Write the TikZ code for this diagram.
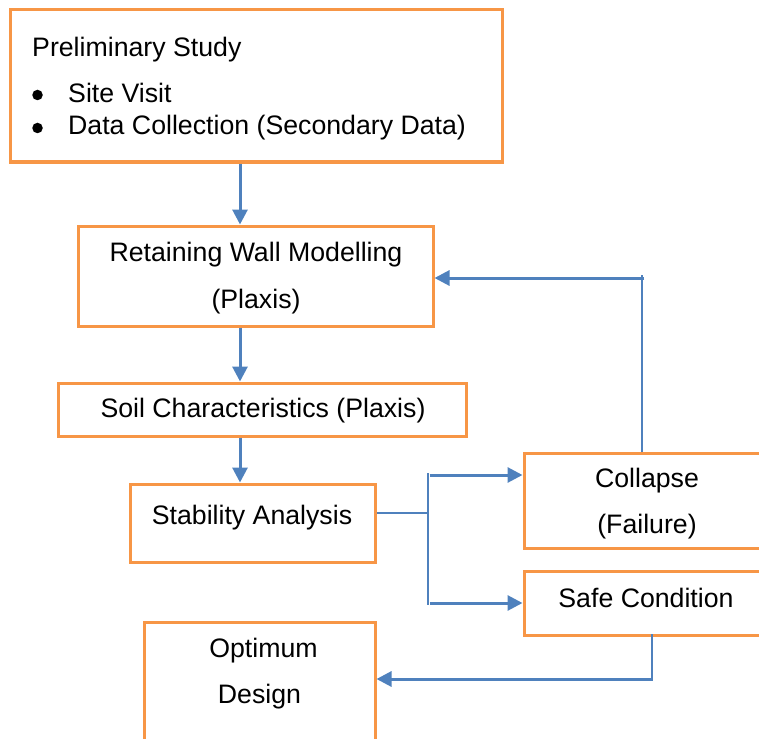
\documentclass[tikz,border=0pt]{standalone}
\usepackage{fontspec}
\setmainfont{Liberation Sans}
\usetikzlibrary{arrows.meta}
\definecolor{boxorange}{HTML}{F79646}
\definecolor{lineblue}{HTML}{4F81BD}
\begin{document}
\begin{tikzpicture}[x=1pt,y=-1pt,
  box/.style={draw=boxorange,line width=3pt,inner sep=0pt},
  txt/.style={inner sep=0pt,font=\fontsize{26.7}{32}\selectfont},
  bulletdot/.style={circle,fill=black,inner sep=0pt,minimum size=10.5pt},
  arr/.style={draw=lineblue,line width=3pt,-{Triangle[length=15pt,width=15pt]}},
  thin/.style={draw=lineblue,line width=1.5pt}]
\useasboundingbox (0,0) rectangle (759,738);
% boxes
\node[box,minimum width=492pt,minimum height=152pt] (prelim) at (256,86) {};
\node[box,minimum width=355pt,minimum height=100pt] (model) at (255.5,276) {};
\node[box,minimum width=408pt,minimum height=53pt] (soil) at (262.5,409.5) {};
\node[box,minimum width=245pt,minimum height=78pt] (stab) at (252.5,523) {};
\node[box,minimum width=240pt,minimum height=95pt] (coll) at (644,500.5) {};
\node[box,minimum width=240pt,minimum height=64pt] (safe) at (644,603) {};
\node[box,minimum width=231pt,minimum height=120pt] (opt) at (259.5,682) {};
% texts
\node[txt,anchor=base west] (tprelim) at (32,57) {Preliminary Study};
\node[bulletdot] (bul1) at (37.5,95) {};
\node[txt,anchor=base west] (tsite) at (68,103) {Site Visit};
\node[bulletdot] (bul2) at (37.5,128) {};
\node[txt,anchor=base west] (tdata) at (68,135) {Data Collection (Secondary Data)};
\node[txt,anchor=base] (tmod1) at (256,261) {Retaining Wall Modelling};
\node[txt,anchor=base] (tmod2) at (256,308) {(Plaxis)};
\node[txt,anchor=base] (tsoil) at (263,417) {Soil Characteristics (Plaxis)};
\node[txt,anchor=base] (tstab) at (252,524) {Stability Analysis};
\node[txt,anchor=base] (tcoll1) at (647,487) {Collapse};
\node[txt,anchor=base] (tcoll2) at (647,533) {(Failure)};
\node[txt,anchor=base] (tsafe) at (646,607) {Safe Condition};
\node[txt,anchor=base] (topt1) at (263.5,657) {Optimum};
\node[txt,anchor=base] (topt2) at (259.5,703) {Design};
% connector coordinates
\coordinate (ax) at (240,0);
\coordinate (split) at (428,513);
\coordinate (splitTop) at (428,473);
\coordinate (splitBot) at (428,605);
\coordinate (fbx) at (642,275);
\coordinate (fby) at (642,278);
\coordinate (sbx) at (652,634);
\coordinate (sby) at (652,679);
% connectors
\draw[arr] (prelim.south -| ax) -- (model.north -| ax);
\draw[arr] (model.south -| ax) -- (soil.north -| ax);
\draw[arr] (soil.south -| ax) -- (stab.north -| ax);
\draw[thin] (stab.east |- split) -- (split);
\draw[thin] (splitTop) -- (splitBot);
\draw[arr] ([xshift=1.5pt]splitTop |- 0,475) -- (coll.west |- 0,475);
\draw[arr] ([xshift=1.5pt]splitBot |- 0,603) -- (safe.west |- 0,603);
\draw[thin] (coll.north -| fbx) -- (fbx);
\draw[arr] ([xshift=2pt]fby) -- (model.east |- fby);
\draw[thin] (sbx) -- (sby);
\draw[arr] ([xshift=0.75pt]sby) -- (opt.east |- sby);
\end{tikzpicture}
\end{document}
